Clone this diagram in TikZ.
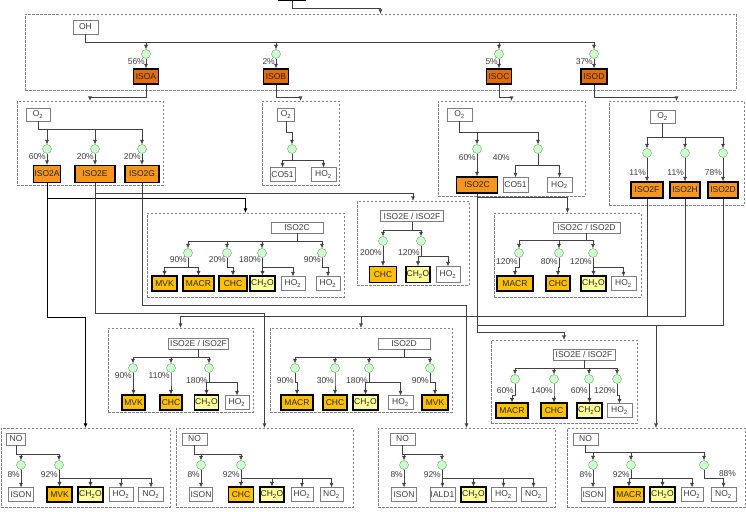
\documentclass[tikz,border=0pt]{standalone}
\usepackage{fontspec}
\setmainfont{Liberation Sans}
\usetikzlibrary{arrows.meta, calc}
\definecolor{parentred}{RGB}{228,108,10}
\definecolor{peroxyorange}{RGB}{247,150,30}
\definecolor{prodgold}{RGB}{255,192,0}
\definecolor{formyellow}{RGB}{255,255,153}
\definecolor{rxngreen}{RGB}{204,255,204}
\definecolor{rxnedge}{RGB}{110,150,110}
\definecolor{boxgray}{RGB}{125,125,125}
\definecolor{textgray}{RGB}{60,60,60}
\tikzstyle{species} = [rectangle, draw=boxgray, fill=white, text=textgray, minimum height=14, inner sep=0.5pt, font=\fontsize{8.5}{10}\selectfont]
\tikzstyle{reac} = [species, minimum height=11]
\tikzstyle{parent} = [species, fill=parentred, draw=black, line width=1.4pt, minimum height=15, text=black!85]
\tikzstyle{peroxy} = [parent, fill=peroxyorange, minimum height=17]
\tikzstyle{product} = [parent, fill=prodgold, line width=1.2pt]
\tikzstyle{formald} = [product, fill=formyellow]
\tikzstyle{rxn} = [circle, draw=rxnedge, fill=rxngreen, minimum size=9, inner sep=0]
\tikzstyle{grp} = [rectangle, draw=boxgray, dash pattern=on 2.5pt off 1.5pt, inner sep=0]
\tikzstyle{pct} = [text=textgray, inner sep=1pt, font=\fontsize{8.5}{10}\selectfont]
\tikzstyle{link} = [draw=black!75]
\tikzstyle{arrow} = [link, -{Latex[length=4.5pt,width=4pt]}]
\tikzstyle{mainarrow} = [arrow, draw=black, line width=0.8pt]

\begin{document}
\begin{tikzpicture}[x=1pt, y=-1pt]
\useasboundingbox (0,0) rectangle (746,511);

% dashed groups
\node (grpoh) [grp, minimum width=711, minimum height=76] at (380.5,52) {};
\node (grpa) [grp, minimum width=146, minimum height=84] at (90,143) {};
\node (grpb) [grp, minimum width=77, minimum height=84] at (300.5,143) {};
\node (grpc) [grp, minimum width=147, minimum height=95] at (511.5,148.5) {};
\node (grpd) [grp, minimum width=135, minimum height=104] at (676.5,153) {};
\node (grpe) [grp, minimum width=197, minimum height=84] at (245.5,255) {};
\node (grpef) [grp, minimum width=112, minimum height=84] at (413,243) {};
\node (grpcd) [grp, minimum width=147, minimum height=84] at (567.5,255) {};
\node (grpf) [grp, minimum width=145, minimum height=84] at (180.5,370) {};
\node (grpg) [grp, minimum width=182, minimum height=84] at (361,370) {};
\node (grph) [grp, minimum width=146, minimum height=83] at (564,381.5) {};
\node (grp1) [grp, minimum width=169, minimum height=79] at (85.5,467.5) {};
\node (grp2) [grp, minimum width=177, minimum height=79] at (264.5,467.5) {};
\node (grp3) [grp, minimum width=177, minimum height=79] at (466.5,467.5) {};
\node (grp4) [grp, minimum width=178, minimum height=79] at (656,467.5) {};

% OH step
\node (isop) [parent, minimum width=26] at (292,-7.2) {};
\node (oh) [species, minimum width=25] at (85.5,27) {OH};
\node (ra) [rxn] at (146,54) {};
\node (rb) [rxn] at (276,54) {};
\node (rc) [rxn] at (499,54) {};
\node (rd) [rxn] at (594,54) {};
\node (isoa) [parent, minimum width=25] at (146,76.5) {ISOA};
\node (isob) [parent, minimum width=25] at (276,76.5) {ISOB};
\node (isoc) [parent, minimum width=25] at (499,76.5) {ISOC};
\node (isod) [parent, minimum width=26] at (594,76.5) {ISOD};

% O2 steps
\node (o2a) [species, minimum width=24, minimum height=13] at (38,114.5) {O\textsubscript{2}};
\node (ra1) [rxn] at (47,149) {};
\node (ra2) [rxn] at (95,149) {};
\node (ra3) [rxn] at (142,149) {};
\node (iso2a) [peroxy, minimum width=27] at (47,174) {ISO2A};
\node (iso2e) [peroxy, minimum width=40] at (95,174) {ISO2E};
\node (iso2g) [peroxy, minimum width=34] at (142,174) {ISO2G};

\node (o2b) [species, minimum width=17, minimum height=13] at (286,114.5) {O\textsubscript{2}};
\node (rb1) [rxn] at (292,149) {};
\node (co51b) [species, minimum width=25] at (282.5,174.5) {CO51};
\node (ho2b) [species, minimum width=25] at (323.5,174.5) {HO\textsubscript{2}};

\node (o2c) [species, minimum width=25, minimum height=13] at (459.5,114.5) {O\textsubscript{2}};
\node (rc1) [rxn] at (477,149) {};
\node (rc2) [rxn] at (538,149) {};
\node (iso2c) [peroxy, minimum width=41, minimum height=16] at (477,185) {ISO2C};
\node (co51c) [species, minimum width=25, minimum height=15] at (515.5,185) {CO51};
\node (ho2c) [species, minimum width=25, minimum height=15] at (559.5,185) {HO\textsubscript{2}};

\node (o2d) [species, minimum width=25, minimum height=13] at (662.5,116.5) {O\textsubscript{2}};
\node (rd1) [rxn] at (647,153) {};
\node (rd2) [rxn] at (685,153) {};
\node (rd3) [rxn] at (723,153) {};
\node (iso2f) [peroxy, minimum width=32, minimum height=16] at (647,190) {ISO2F};
\node (iso2h) [peroxy, minimum width=30, minimum height=16] at (685,190) {ISO2H};
\node (iso2d) [peroxy, minimum width=30, minimum height=16] at (723,190) {ISO2D};

% ISO2C group
\node (t2c) [reac, minimum width=52] at (297,227.5) {ISO2C};
\node (re1) [rxn] at (188,253) {};
\node (re2) [rxn] at (227,253) {};
\node (re3) [rxn] at (262,253) {};
\node (re4) [rxn] at (322,253) {};
\node (mvke) [product, minimum width=25] at (164.5,283.5) {MVK};
\node (macre) [product, minimum width=31] at (198.5,283.5) {MACR};
\node (chce) [product, minimum width=28] at (233,283.5) {CHC};
\node (ch2oe) [formald, minimum width=25] at (262.5,283.5) {CH\textsubscript{2}O};
\node (ho2e) [species, minimum width=24] at (293,283.5) {HO\textsubscript{2}};
\node (ho2ee) [species, minimum width=24] at (328,283.5) {HO\textsubscript{2}};

% ISO2E / ISO2F group (top)
\node (t2ef) [reac, minimum width=63] at (412,216) {ISO2E / ISO2F};
\node (ref1) [rxn] at (383,241) {};
\node (ref2) [rxn] at (421,241) {};
\node (chcef) [product, minimum width=27, minimum height=16] at (383,274.5) {CHC};
\node (ch2oef) [formald, minimum width=24, minimum height=16] at (418,274.5) {CH\textsubscript{2}O};
\node (ho2ef) [species, minimum width=24, minimum height=16] at (448,274.5) {HO\textsubscript{2}};

% ISO2C / ISO2D group
\node (t2cd) [reac, minimum width=67] at (586.5,227.5) {ISO2C / ISO2D};
\node (rcd1) [rxn] at (519,253) {};
\node (rcd2) [rxn] at (559,253) {};
\node (rcd3) [rxn] at (593,253) {};
\node (macrcd) [product, minimum width=36] at (515,283.5) {MACR};
\node (chccd) [product, minimum width=24] at (558,283.5) {CHC};
\node (ch2ocd) [formald, minimum width=25] at (593.5,283.5) {CH\textsubscript{2}O};
\node (ho2cd) [species, minimum width=25] at (623.5,283.5) {HO\textsubscript{2}};

% ISO2E / ISO2F group (left)
\node (t3ef) [reac, minimum width=60] at (198.5,343.5) {ISO2E / ISO2F};
\node (rf1) [rxn] at (133,368) {};
\node (rf2) [rxn] at (171,368) {};
\node (rf3) [rxn] at (209,368) {};
\node (mvkf) [product, minimum width=23] at (133.5,402.5) {MVK};
\node (chcf) [product, minimum width=22] at (171,402.5) {CHC};
\node (ch2of) [formald, minimum width=24] at (206.5,402.5) {CH\textsubscript{2}O};
\node (ho2f) [species, minimum width=24] at (237,402.5) {HO\textsubscript{2}};

% ISO2D group
\node (t3d) [reac, minimum width=52] at (404,343.5) {ISO2D};
\node (rg1) [rxn] at (295,368) {};
\node (rg2) [rxn] at (335,368) {};
\node (rg3) [rxn] at (369,368) {};
\node (rg4) [rxn] at (430,368) {};
\node (macrg) [product, minimum width=32] at (297,402.5) {MACR};
\node (chcg) [product, minimum width=24] at (335,402.5) {CHC};
\node (ch2og) [formald, minimum width=25] at (365.5,402.5) {CH\textsubscript{2}O};
\node (ho2g) [species, minimum width=25] at (400.5,402.5) {HO\textsubscript{2}};
\node (mvkg) [product, minimum width=26] at (435,402.5) {MVK};

% ISO2E / ISO2F group (right)
\node (t3h) [reac, minimum width=62] at (584,354.5) {ISO2E / ISO2F};
\node (rh1) [rxn] at (515,379) {};
\node (rh2) [rxn] at (554,379) {};
\node (rh3) [rxn] at (589,379) {};
\node (rh4) [rxn] at (617,379) {};
\node (macrh) [product, minimum width=32] at (512,410.5) {MACR};
\node (chch) [product, minimum width=26] at (554,410.5) {CHC};
\node (ch2oh) [formald, minimum width=25] at (589.5,410.5) {CH\textsubscript{2}O};
\node (ho2h) [species, minimum width=25] at (619.5,410.5) {HO\textsubscript{2}};

% NO steps
\node (no1) [species, minimum width=19, minimum height=12] at (16,439) {NO};
\node (r11) [rxn] at (21,465) {};
\node (r12) [rxn] at (59,465) {};
\node (ison1) [species, minimum width=25] at (21,494.5) {ISON};
\node (mvk1) [product, minimum width=25] at (59.5,494.5) {MVK};
\node (ch2o1) [formald, minimum width=25] at (90.5,494.5) {CH\textsubscript{2}O};
\node (ho21) [species, minimum width=24] at (121,494.5) {HO\textsubscript{2}};
\node (no21) [species, minimum width=25] at (151,494.5) {NO\textsubscript{2}};

\node (no2) [species, minimum width=25, minimum height=12] at (194.5,439) {NO};
\node (r21) [rxn] at (201,465) {};
\node (r22) [rxn] at (241,465) {};
\node (ison2) [species, minimum width=23] at (201,494.5) {ISON};
\node (chc2) [product, minimum width=25] at (241,494.5) {CHC};
\node (ch2o2) [formald, minimum width=24] at (272,494.5) {CH\textsubscript{2}O};
\node (ho22) [species, minimum width=22] at (302,494.5) {HO\textsubscript{2}};
\node (no22) [species, minimum width=23] at (331.5,494.5) {NO\textsubscript{2}};

\node (no3) [species, minimum width=25, minimum height=12] at (402.5,439) {NO};
\node (r31) [rxn] at (404,465) {};
\node (r32) [rxn] at (442,465) {};
\node (ison3) [species, minimum width=25] at (404,494.5) {ISON};
\node (iald3) [species, minimum width=25] at (442.5,494.5) {IALD1};
\node (ch2o3) [formald, minimum width=25] at (473.5,494.5) {CH\textsubscript{2}O};
\node (ho23) [species, minimum width=25] at (503.5,494.5) {HO\textsubscript{2}};
\node (no23) [species, minimum width=25] at (533.5,494.5) {NO\textsubscript{2}};

\node (no4) [species, minimum width=25, minimum height=12] at (585.5,439) {NO};
\node (r41) [rxn] at (593,465) {};
\node (r42) [rxn] at (631,465) {};
\node (r43) [rxn] at (704,465) {};
\node (ison4) [species, minimum width=24] at (593,494.5) {ISON};
\node (macr4) [product, minimum width=30] at (629,494.5) {MACR};
\node (ch2o4) [formald, minimum width=25] at (662.5,494.5) {CH\textsubscript{2}O};
\node (ho24) [species, minimum width=22] at (692,494.5) {HO\textsubscript{2}};
\node (no24) [species, minimum width=25] at (723.5,494.5) {NO\textsubscript{2}};

% inside OH box
\draw [arrow] (oh.south) -- ++(0,8) -| (ra.north);
\draw [arrow] (oh.south) -- ++(0,8) -| (rb.north);
\draw [arrow] (oh.south) -- ++(0,8) -| (rc.north);
\draw [arrow] (oh.south) -- ++(0,8) -| (rd.north);
\draw [arrow] (ra) -- node[pct, left, pos=0.25] {56\%} (isoa);
\draw [arrow] (rb) -- node[pct, left, pos=0.25] {2\%} (isob);
\draw [arrow] (rc) -- node[pct, left, pos=0.25] {5\%} (isoc);
\draw [arrow] (rd) -- node[pct, left, pos=0.25] {37\%} (isod);

% inside O2 boxes
\draw [arrow] (o2a.south) -- ++(0,8) -| (ra1.north);
\draw [arrow] (o2a.south) -- ++(0,8) -| (ra2.north);
\draw [arrow] (o2a.south) -- ++(0,8) -| (ra3.north);
\draw [arrow] (ra1) -- node[pct, left, pos=0.28] {60\%} (iso2a);
\draw [arrow] (ra2) -- node[pct, left, pos=0.28] {20\%} (iso2e);
\draw [arrow] (ra3) -- node[pct, left, pos=0.28] {20\%} (iso2g);

\draw [arrow] (o2b.south) -- ++(0,11) -| (rb1.north);
\draw [arrow] (rb1.south) -- ++(0,6.5) -| (co51b.north);
\draw [arrow] (rb1.south) -- ++(0,6.5) -| (ho2b.north);

\draw [arrow] (o2c.south) -- ++(0,11) -| (rc1.north);
\draw [arrow] (o2c.south) -- ++(0,11) -| (rc2.north);
\draw [arrow] (rc1) -- node[pct, left, pos=0.15] {60\%} (iso2c);
\draw [arrow] (rc2.south) -- node[pct, left, pos=0.3, xshift=-27] {40\%} ++(0,11.5) -| (co51c.north);
\draw [arrow] (rc2.south) -- ++(0,11.5) -| (ho2c.north);

\draw [arrow] (o2d.south) -- ++(0,14) -| (rd1.north);
\draw [arrow] (o2d.south) -- ++(0,14) -| (rd2.north);
\draw [arrow] (o2d.south) -- ++(0,14) -| (rd3.north);
\draw [arrow] (rd1) -- node[pct, left, pos=0.63] {11\%} (iso2f);
\draw [arrow] (rd2) -- node[pct, left, pos=0.63] {11\%} (iso2h);
\draw [arrow] (rd3) -- node[pct, left, pos=0.63] {78\%} (iso2d);

% inside ISO2C box
\draw [arrow] (t2c.south) -- ++(0,8) -| (re1.north);
\draw [arrow] (t2c.south) -- ++(0,8) -| (re2.north);
\draw [arrow] (t2c.south) -- ++(0,8) -| (re3.north);
\draw [arrow] (t2c.south) -- ++(0,8) -| (re4.north);
\draw [arrow] (re1.south) -- node[pct, left, pos=0.2] {90\%} ++(0,9.5) -| (mvke.north);
\draw [arrow] (re1.south) -- ++(0,9.5) -| (macre.north);
\draw [arrow] (re2.south) -- node[pct, left, pos=0.2] {20\%} ++(0,9.5) -| (chce.north);
\draw [arrow] (re3.south) -- node[pct, left, pos=0.2] {180\%} ++(0,9.5) -| (ch2oe.north);
\draw [arrow] (re3.south) -- ++(0,9.5) -| (ho2e.north);
\draw [arrow] (re4.south) -- node[pct, left, pos=0.2] {90\%} ++(0,9.5) -| (ho2ee.north);

\draw [arrow] (t2ef.south) -- ++(0,8.5) -| (ref1.north);
\draw [arrow] (t2ef.south) -- ++(0,8.5) -| (ref2.north);
\draw [arrow] (ref1) -- node[pct, left, pos=0.32] {200\%} (chcef);
\draw [arrow] (ref2.south) -- node[pct, left, pos=0.62] {120\%} ++(0,10.5) -| (ch2oef.north);
\draw [arrow] (ref2.south) -- ++(0,10.5) -| (ho2ef.north);

\draw [arrow] (t2cd.south) -- ++(0,7) -| (rcd1.north);
\draw [arrow] (t2cd.south) -- ++(0,7) -| (rcd2.north);
\draw [arrow] (t2cd.south) -- ++(0,7) -| (rcd3.north);
\draw [arrow] (rcd1.south) -- node[pct, left, pos=0.37] {120\%} ++(0,9.5) -| (macrcd.north);
\draw [arrow] (rcd2.south) -- node[pct, left, pos=0.37] {80\%} ++(0,9.5) -| (chccd.north);
\draw [arrow] (rcd3.south) -- node[pct, left, pos=0.37] {120\%} ++(0,9.5) -| (ch2ocd.north);
\draw [arrow] (rcd3.south) -- ++(0,9.5) -| (ho2cd.north);

% inside lower groups
\draw [arrow] (t3ef.south) -- ++(0,8) -| (rf1.north);
\draw [arrow] (t3ef.south) -- ++(0,8) -| (rf2.north);
\draw [arrow] (t3ef.south) -- ++(0,8) -| (rf3.north);
\draw [arrow] (rf1.south) -- node[pct, left, pos=0.33] {90\%} ++(0,9.5) -| (mvkf.north);
\draw [arrow] (rf2.south) -- node[pct, left, pos=0.33] {110\%} ++(0,9.5) -| (chcf.north);
\draw [arrow] (rf3.south) -- node[pct, left, pos=0.79] {180\%} ++(0,9.5) -| (ch2of.north);
\draw [arrow] (rf3.south) -- ++(0,9.5) -| (ho2f.north);

\draw [arrow] (t3d.south) -- ++(0,8) -| (rg1.north);
\draw [arrow] (t3d.south) -- ++(0,8) -| (rg2.north);
\draw [arrow] (t3d.south) -- ++(0,8) -| (rg3.north);
\draw [arrow] (t3d.south) -- ++(0,8) -| (rg4.north);
\draw [arrow] (rg1.south) -- node[pct, left, pos=0.79] {90\%} ++(0,9.5) -| (macrg.north);
\draw [arrow] (rg2.south) -- node[pct, left, pos=0.79] {30\%} ++(0,9.5) -| (chcg.north);
\draw [arrow] (rg3.south) -- node[pct, left, pos=0.79] {180\%} ++(0,9.5) -| (ch2og.north);
\draw [arrow] (rg3.south) -- ++(0,9.5) -| (ho2g.north);
\draw [arrow] (rg4.south) -- node[pct, left, pos=0.79] {90\%} ++(0,9.5) -| (mvkg.north);

\draw [arrow] (t3h.south) -- ++(0,8) -| (rh1.north);
\draw [arrow] (t3h.south) -- ++(0,8) -| (rh2.north);
\draw [arrow] (t3h.south) -- ++(0,8) -| (rh3.north);
\draw [arrow] (t3h.south) -- ++(0,8) -| (rh4.north);
\draw [arrow] (rh1.south) -- node[pct, left, pos=0.6] {60\%} ++(0,11) -| (macrh.north);
\draw [arrow] (rh2.south) -- node[pct, left, pos=0.6] {140\%} ++(0,11) -| (chch.north);
\draw [arrow] (rh3.south) -- node[pct, left, pos=0.6] {60\%} ++(0,11) -| (ch2oh.north);
\draw [arrow] (rh4.south) -- node[pct, left, pos=0.6] {120\%} ++(0,11) -| (ho2h.north);

\draw [arrow] (no1.south) -- ++(0,9) -| (r11.north);
\draw [arrow] (no1.south) -- ++(0,9) -| (r12.north);
\draw [arrow] (r11) -- node[pct, left, pos=0.26] {8\%} (ison1);
\draw [arrow] (r12.south) -- node[pct, left, pos=0.53] {92\%} ++(0,8.5) -| (mvk1.north);
\draw [arrow] (r12.south) -- ++(0,8.5) -| (ch2o1.north);
\draw [arrow] (r12.south) -- ++(0,8.5) -| (ho21.north);
\draw [arrow] (r12.south) -- ++(0,8.5) -| (no21.north);

\draw [arrow] (no2.south) -- ++(0,9) -| (r21.north);
\draw [arrow] (no2.south) -- ++(0,9) -| (r22.north);
\draw [arrow] (r21) -- node[pct, left, pos=0.26] {8\%} (ison2);
\draw [arrow] (r22.south) -- node[pct, left, pos=0.53] {92\%} ++(0,8.5) -| (chc2.north);
\draw [arrow] (r22.south) -- ++(0,8.5) -| (ch2o2.north);
\draw [arrow] (r22.south) -- ++(0,8.5) -| (ho22.north);
\draw [arrow] (r22.south) -- ++(0,8.5) -| (no22.north);

\draw [arrow] (no3.south) -- ++(0,9) -| (r31.north);
\draw [arrow] (no3.south) -- ++(0,9) -| (r32.north);
\draw [arrow] (r31) -- node[pct, left, pos=0.26] {8\%} (ison3);
\draw [arrow] (r32.south) -- node[pct, left, pos=0.53] {92\%} ++(0,8.5) -| (iald3.north);
\draw [arrow] (r32.south) -- ++(0,8.5) -| (ch2o3.north);
\draw [arrow] (r32.south) -- ++(0,8.5) -| (ho23.north);
\draw [arrow] (r32.south) -- ++(0,8.5) -| (no23.north);

\draw [arrow] (no4.south) -- ++(0,7) -| (r41.north);
\draw [arrow] (no4.south) -- ++(0,7) -| (r42.north);
\draw [arrow] (no4.south) -- ++(0,7) -| (r43.north);
\draw [arrow] (r41) -- node[pct, left, pos=0.26] {8\%} (ison4);
\draw [arrow] (r42.south) -- node[pct, left, pos=0.53] {92\%} ++(0,8.5) -| (macr4.north);
\draw [arrow] (r42.south) -- ++(0,8.5) -| (ch2o4.north);
\draw [arrow] (r42.south) -- ++(0,8.5) -| (ho24.north);
\draw [arrow] (r43.south) -- ++(0,8.5) -| node[pct, above, pos=0.5, xshift=4] {88\%} (no24.north);

% between groups
\draw [arrow] (isop.south) -- ++(0,7.5) -| (grpoh.north);
\draw [arrow] (isoa.south) -- ++(0,12.5) -| (grpa.north);
\draw [arrow] (isob.south) -- ++(0,12.5) -| (grpb.north);
\draw [arrow] (isoc.south) -- ++(0,12.5) -| (grpc.north);
\draw [arrow] (isod.south) -- ++(0,12.5) -| (grpd.north);
\draw [mainarrow] (iso2a.south) -- ++(0,15.5) -| (grpe.north);
\draw [mainarrow] (iso2a.south) -- ++(0,134.5) -| (grp1.north);
\draw [arrow] (iso2e.south) -- ++(0,9.5) -| (grpef.north);
\draw [arrow] (iso2e.south) -- ++(0,129.5) -| (grp2.north);
\draw [arrow] (iso2g.south) -- ++(0,122) -| (grp3.north);
\draw [arrow] (iso2c.south) -- ++(0,3) -| (grpcd.north);
\draw [arrow] (iso2c.south) -- ++(0,138) -| (grph.north);
\draw [link] (iso2d.south) -- ++(0,126) -| ($(iso2c.south)+(0,138)$);
\draw [arrow] (iso2d.south) -- ++(0,126) -| (grp4.north);
\draw [arrow] (iso2f.south) -- ++(0,117.5) -| (grpf.north);
\draw [arrow] (iso2f.south) -- ++(0,117.5) -| (grpg.north);
\draw [link] (iso2h.south) -- ++(0,117.5) -| (iso2f.south);
\end{tikzpicture}
\end{document}
